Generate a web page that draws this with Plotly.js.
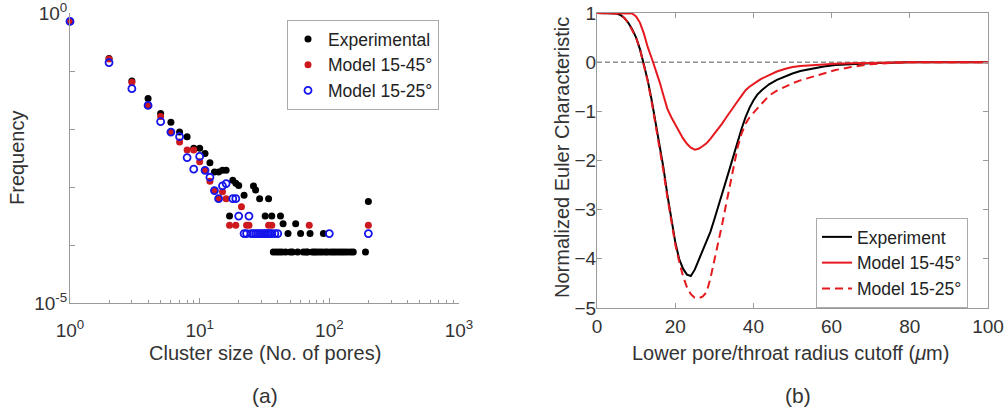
<!DOCTYPE html>
<html><head><meta charset="utf-8">
<script src="https://cdn.plot.ly/plotly-3.0.1.min.js"></script>
<style>html,body{margin:0;padding:0;background:#fff}#chart{width:1004px;height:412px}</style>
</head><body><div id="chart"></div>
<script>
// ---------- Panel (a): cluster size distribution ----------
const expSize = [1,2,3,4,5,6,7,8,9,10,11,12,13,14,15,16,17,18,19,20,22,26,27,29,32,34,36,37,39,41,42,43,44,46,48,50,52,55,57,60,63,66,68,71,74,77,80,84,88,90,93,97,103,108,113,119,125,131,138,146,153,190,200];
const expFreq = [0.724,0.166,0.0676,0.0339,0.0186,0.0132,0.00891,0.00741,0.00468,0.00468,0.00380,0.00263,0.00182,0.00182,0.00195,0.00195,0.000316,0.00132,0.00117,0.00107,0.000724,0.00105,0.000891,0.000631,0.000316,0.000631,0.000316,0.0000759,0.0000759,0.0000759,0.000316,0.0000759,0.000234,0.0000759,0.000158,0.0000759,0.0000759,0.000234,0.0000759,0.000158,0.0000759,0.0000759,0.0000759,0.000158,0.0000759,0.0000759,0.0000759,0.0000759,0.0000759,0.000158,0.0000759,0.0000759,0.0000759,0.0000759,0.0000759,0.0000759,0.0000759,0.0000759,0.0000759,0.0000759,0.0000759,0.0000759,0.000562];

const m45Size = [1,2,3,4,5,6,7,8,9,10,11,12,13,14,15,16,17,19,21,23,24,34,36,70,200];
const m45Freq = [0.724,0.162,0.0646,0.0257,0.0166,0.00891,0.00603,0.00437,0.00437,0.00275,0.00195,0.00126,0.000871,0.000631,0.000832,0.000631,0.000219,0.000219,0.000457,0.000219,0.000219,0.000219,0.000219,0.000219,0.000219];

const m25Size = [1,2,3,4,5,6,7,8,9,10,11,12,13,14,15,16,18,19,20,22,23,24,25,26,27,28,29,30,31,32,33,34,35,36,38,40,100,200];
const m25Freq = [0.724,0.141,0.0501,0.0257,0.0135,0.00891,0.00741,0.00324,0.00204,0.00339,0.00195,0.00148,0.000871,0.000631,0.00105,0.00115,0.000631,0.000631,0.000316,0.000158,0.000158,0.000316,0.000158,0.000158,0.000158,0.000158,0.000158,0.000158,0.000158,0.000158,0.000158,0.000158,0.000158,0.000158,0.000158,0.000158,0.000158,0.000158];

const xDecades = [1,10,100,1000];
const xDecadeLabels = ['10<sup>0</sup>','10<sup>1</sup>','10<sup>2</sup>','10<sup>3</sup>'];
const xMinor = [2,3,4,5,6,7,8,9,20,30,40,50,60,70,80,90,200,300,400,500,600,700,800,900];
const yDecades = [1e-5,1e-4,1e-3,1e-2,1e-1,1];
const yDecadeLabels = ['10<sup>-5</sup>','','','','','10<sup>0</sup>'];

// ---------- Panel (b): normalized Euler characteristic ----------
const cutoff = [0,2,4,5,6,7,8,9,10,11,12,13,14,15,16,17,18,19,20,21,22,23,24,25,26,27,28,29,30,31,32,33,34,35,36,37,38,39,40,41,42,44,46,48,50,52,55,58,61,65,70,75,80,90,100];
const eulerExp = [1,1,1,0.99,0.96,0.9,0.8,0.67,0.5,0.26,-0.05,-0.38,-0.78,-1.22,-1.66,-2.15,-2.7,-3.2,-3.65,-4.0,-4.2,-4.32,-4.35,-4.22,-4.03,-3.85,-3.65,-3.45,-3.2,-2.95,-2.7,-2.42,-2.15,-1.88,-1.6,-1.35,-1.12,-0.93,-0.78,-0.66,-0.58,-0.45,-0.36,-0.29,-0.23,-0.18,-0.13,-0.09,-0.06,-0.04,-0.02,-0.01,0,0,0];
const eulerM45 = [1,1,1,1,1,1,1,0.99,0.93,0.8,0.58,0.3,0.08,-0.15,-0.4,-0.68,-0.95,-1.12,-1.27,-1.4,-1.55,-1.66,-1.74,-1.78,-1.76,-1.71,-1.65,-1.56,-1.46,-1.36,-1.25,-1.13,-1.01,-0.9,-0.79,-0.68,-0.57,-0.5,-0.44,-0.39,-0.34,-0.26,-0.19,-0.14,-0.1,-0.08,-0.06,-0.04,-0.03,-0.02,-0.01,0,0,0,0];
const eulerM25 = [1,1,1,0.99,0.96,0.9,0.8,0.66,0.5,0.26,-0.06,-0.4,-0.82,-1.26,-1.72,-2.22,-2.75,-3.25,-3.7,-4.05,-4.35,-4.58,-4.72,-4.79,-4.8,-4.77,-4.68,-4.4,-4.05,-3.7,-3.3,-2.9,-2.5,-2.1,-1.72,-1.45,-1.25,-1.12,-1.03,-0.93,-0.84,-0.68,-0.58,-0.5,-0.43,-0.37,-0.3,-0.22,-0.16,-0.1,-0.04,-0.015,0,0,0];
const xTicksB = [0,20,40,60,80,100];
const yTicksB = [1,0,-1,-2,-3,-4,-5];

const FONT = 'Liberation Sans, Arial, sans-serif';
const TXT = '#333333';
const AX = '#9a9a9a';
const RED = 'rgb(230,25,30)';

const traces = [
  {x: expSize, y: expFreq, type:'scatter', mode:'markers', name:'Experimental', xaxis:'x', yaxis:'y', cliponaxis:false,
   marker:{color:'#000', size:7, symbol:'circle'}, legend:'legend'},
  {x: m45Size, y: m45Freq, type:'scatter', mode:'markers', name:'Model 15-45°', xaxis:'x', yaxis:'y', cliponaxis:false,
   marker:{color:'rgb(205,25,30)', size:7, symbol:'circle'}, legend:'legend'},
  {x: m25Size, y: m25Freq, type:'scatter', mode:'markers', name:'Model 15-25°', xaxis:'x', yaxis:'y', cliponaxis:false,
   marker:{color:'rgb(20,20,235)', size:7, symbol:'circle-open', line:{color:'rgb(20,20,235)', width:1.8}}, legend:'legend'},
  {x: cutoff, y: eulerExp, type:'scatter', mode:'lines', name:'Experiment', xaxis:'x2', yaxis:'y2',
   line:{color:'#000', width:2}, legend:'legend2'},
  {x: cutoff, y: eulerM45, type:'scatter', mode:'lines', name:'Model 15-45°', xaxis:'x2', yaxis:'y2',
   line:{color:RED, width:2}, legend:'legend2'},
  {x: cutoff, y: eulerM25, type:'scatter', mode:'lines', name:'Model 15-25°', xaxis:'x2', yaxis:'y2',
   line:{color:RED, width:2, dash:'8px,5px'}, legend:'legend2'}
];

const baseAxis = {showline:true, linecolor:AX, linewidth:1, ticks:'inside', tickcolor:AX, showgrid:false, zeroline:false,
  tickfont:{family:FONT, size:19, color:TXT}, fixedrange:true, ticklabeloverflow:'allow'};

const layout = {
  width:1004, height:412,
  margin:{l:0, r:0, t:0, b:0},
  paper_bgcolor:'#fff', plot_bgcolor:'rgba(0,0,0,0)',
  font:{family:FONT, size:19, color:TXT},
  xaxis: Object.assign({}, baseAxis, {type:'log', range:[0,3], domain:[70/1004, 459/1004], anchor:'y',
     tickmode:'array', tickvals:xDecades, ticktext:xDecadeLabels, ticklen:5, ticklabelstandoff:10,
     minor:{tickmode:'array', tickvals:xMinor, ticks:'inside', ticklen:3, tickcolor:AX, showgrid:false}}),
  yaxis: Object.assign({}, baseAxis, {type:'log', range:[-5,0], domain:[(412-303)/412, (412-13.3)/412], anchor:'x',
     tickmode:'array', tickvals:yDecades, ticktext:yDecadeLabels, ticklen:5, ticklabelstandoff:-2}),
  xaxis2: Object.assign({}, baseAxis, {range:[0,100], domain:[597/1004, 988/1004], anchor:'y2', mirror:'ticks',
     tickmode:'array', tickvals:xTicksB, ticklen:5, ticklabelstandoff:1}),
  yaxis2: Object.assign({}, baseAxis, {range:[-5,1], domain:[(412-308)/412, (412-13)/412], anchor:'x2', mirror:'ticks',
     tickmode:'array', tickvals:yTicksB, ticklen:5, ticklabelstandoff:-4}),
  shapes:[{type:'line', xref:'x2', yref:'y2', x0:0, x1:100, y0:0, y1:0, line:{color:'#555', width:1, dash:'5px,3px'}, layer:'below'}],
  legend:{x:287/1004, y:(412-20)/412, xanchor:'left', yanchor:'top', bgcolor:'#fff', bordercolor:'#aaa', borderwidth:1,
     font:{family:FONT, size:17.5, color:'#222'}, itemsizing:'trace'},
  legend2:{x:816/1004, y:(412-218)/412, xanchor:'left', yanchor:'top', bgcolor:'#fff', bordercolor:'#aaa', borderwidth:1,
     font:{family:FONT, size:17.5, color:'#222'}},
  showlegend:true,
  annotations:[
    {text:'Frequency', x:17/1004, y:(412-158)/412, xref:'paper', yref:'paper', textangle:-90, showarrow:false, xanchor:'center', yanchor:'middle', font:{size:20, color:TXT}},
    {text:'Cluster size (No. of pores)', x:265/1004, y:(412-353)/412, xref:'paper', yref:'paper', showarrow:false, xanchor:'center', yanchor:'middle', font:{size:20, color:TXT}},
    {text:'(a)', x:265/1004, y:(412-395)/412, xref:'paper', yref:'paper', showarrow:false, xanchor:'center', yanchor:'middle', font:{size:21, color:TXT}},
    {text:'Normalized Euler Characteristic', x:562/1004, y:(412-158)/412, xref:'paper', yref:'paper', textangle:-90, showarrow:false, xanchor:'center', yanchor:'middle', font:{size:20, color:TXT}},
    {text:'Lower pore/throat radius cutoff (<i>μ</i>m)', x:790/1004, y:(412-353)/412, xref:'paper', yref:'paper', showarrow:false, xanchor:'center', yanchor:'middle', font:{size:20, color:TXT}},
    {text:'(b)', x:798/1004, y:(412-395)/412, xref:'paper', yref:'paper', showarrow:false, xanchor:'center', yanchor:'middle', font:{size:21, color:TXT}}
  ]
};

Plotly.newPlot('chart', traces, layout, {displayModeBar:false, staticPlot:true});
</script>
</body></html>
